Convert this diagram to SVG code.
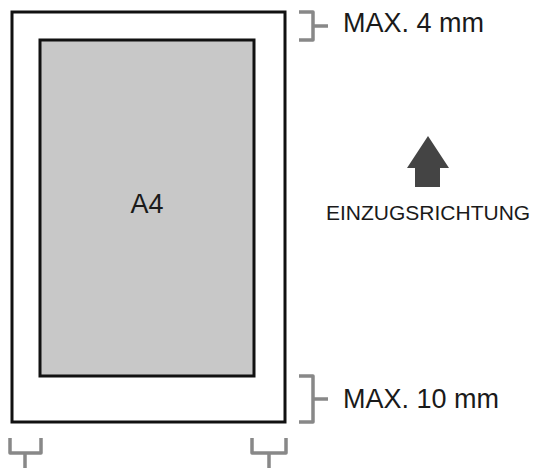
<svg xmlns="http://www.w3.org/2000/svg" width="537" height="470" viewBox="0 0 537 470">
<style>
.frame{fill:#fff;stroke:#111;stroke-width:3}
.paper{fill:#c8c8c8;stroke:#111;stroke-width:3}
.br{fill:none;stroke:#888;stroke-width:3.5;stroke-linejoin:round}
.t{font-family:"Liberation Sans",Arial,sans-serif;fill:#1a1a1a}
</style>
<rect width="537" height="470" fill="#fff"/>
<g id="sheet"><rect class="frame" x="12" y="12" width="273" height="410"/></g>
<g id="a4"><rect class="paper" x="40" y="40" width="214" height="336"/>
<text class="t" x="147" y="213" font-size="27" text-anchor="middle">A4</text></g>
<g id="connectors">
<path class="br" d="M299 12 H313 V40 H299 M313 26 H328"/>
<path class="br" d="M299 376 H313 V422 H299 M313 399 H328"/>
<path class="br" d="M10 438 V453 H41 V438 M25 453 V468"/>
<path class="br" d="M252 438 V453 H286 V438 M269 453 V468"/>
</g>
<g id="label-top"><text class="t" x="343" y="32" font-size="27">MAX. 4 mm</text></g>
<g id="label-bottom"><text class="t" x="343" y="408" font-size="27">MAX. 10 mm</text></g>
<g id="direction">
<polygon points="428,136 449,168 440,168 440,187 415,187 415,168 407,168" fill="#444"/>
<text class="t" x="326" y="220" font-size="21">EINZUGSRICHTUNG</text>
</g>
</svg>
